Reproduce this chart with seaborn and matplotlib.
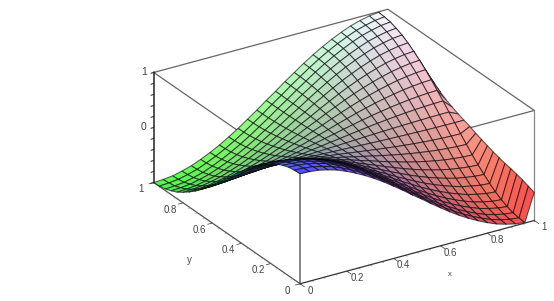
import numpy as np
import matplotlib
matplotlib.use('Agg')
import matplotlib.pyplot as plt
from mpl_toolkits.mplot3d import proj3d
import seaborn as sns

# 26 x 26 grid, heights
x_grid = [i / 25 for i in range(26)]
y_grid = [i / 25 for i in range(26)]
edge_wave = [1.0, 0.99, 0.97, 0.93, 0.88, 0.81, 0.73, 0.64, 0.54, 0.43, 0.31, 0.19, 0.06,
             -0.06, -0.19, -0.31, -0.43, -0.54, -0.64, -0.73, -0.81, -0.88, -0.93, -0.97, -0.99, -1.0]
# last column (x=1) bends away from the rest
edge_x1 = [-0.49, -0.45, -0.41, -0.38, -0.35, -0.33, -0.30, -0.27, -0.23, -0.19, -0.15, -0.10, -0.06,
           -0.02, 0.03, 0.08, 0.15, 0.23, 0.31, 0.385, 0.47, 0.54, 0.61, 0.67, 0.73, 0.78]

x_ticks = [0, 0.2, 0.4, 0.6, 0.8, 1]
y_ticks = [0, 0.2, 0.4, 0.6, 0.8, 1]
z_ticks = [-1, -0.8, -0.6, -0.4, -0.2, 0, 0.2, 0.4, 0.6, 0.8, 1]
tick_labels = ['0', '0.2', '0.4', '0.6', '0.8', '1']
minor_ticks = [i / 20 for i in range(21)]

sns.set_theme(style='white')
plt.rcParams['font.family'] = ['Liberation Sans', 'DejaVu Sans']

z = np.outer(edge_wave, edge_wave)
z[-1] = edge_x1
X, Y = np.meshgrid(x_grid, y_grid, indexing='ij')
# red follows x, green follows y, blue follows height
floor = 0.32
colors = floor + (1 - floor) * np.dstack([X, Y, (np.outer(edge_wave, edge_wave) + 1) / 2])

fig = plt.figure(figsize=(5.54, 3.01), dpi=100)
W = 400
ax = fig.add_axes([(344 - 0.5135 * W) / 554, (154.5 - 0.5135 * W) / 301, W / 554, W / 301],
                  projection='3d', proj_type='ortho', computed_zorder=False)
ax.set_box_aspect((1, 1, 0.442), zoom=0.993)
ax.view_init(elev=25.6, azim=-122)
ax.set_xlim(0, 1, view_margin=0)
ax.set_ylim(0, 1, view_margin=0)
ax.set_zlim(-1, 1, view_margin=0)
ax.set_axis_off()

# box behind the surface
box = '#666666'
ax.plot([0, 1, 1, 0, 0], [1, 1, 0, 0, 1], [1, 1, 1, 1, 1], color=box, lw=0.9, zorder=1)
ax.plot([0, 0], [0, 0], [-1, 1], color=box, lw=1.1, zorder=1)
ax.plot([1, 1], [0, 0], [-1, 1], color='#888888', lw=0.9, zorder=1)
ax.plot([0, 0], [1, 1], [-1, 1], color='#222222', lw=1.1, zorder=1)
ax.plot([0, 0], [0, 1], [-1, -1], color='#555555', lw=0.9, zorder=1)
ax.plot([0, 1], [0, 0], [-1, -1], color='#333333', lw=0.9, zorder=3)

ax.plot_surface(X, Y, z, facecolors=colors, rstride=1, cstride=1, shade=False,
                edgecolor=(0, 0, 0, 0.62), linewidth=0.75, zorder=2)

for t in minor_ticks:
    ax.plot([t, t], [0, -0.012], [-1, -1], color='#888888', lw=0.4, zorder=1)
    ax.plot([0, -0.008], [t, t], [-1, -1], color='#888888', lw=0.4, zorder=1)
for t in x_ticks:
    ax.plot([t, t], [0, -0.03], [-1, -1], color='#555555', lw=0.6, zorder=1)
for t in y_ticks:
    ax.plot([0, -0.02], [t, t], [-1, -1], color='#555555', lw=0.6, zorder=1)
for t in z_ticks:
    ax.plot([0, -0.012], [1, 1], [t, t], color='#222222', lw=0.7, zorder=1)


def label(x, y, zz, s, size=7):
    px, py, _ = proj3d.proj_transform(x, y, zz, ax.get_proj())
    ax.text2D(px, py, s, transform=ax.transData, color='#444444', fontsize=size,
              ha='center', va='center', zorder=4)


for t, lab in zip(x_ticks, tick_labels):
    label(t, -0.068, -1, lab)
for t, lab in zip(y_ticks, tick_labels):
    label(-0.055, t, -1.06, lab)
label(-0.03, 1.02, 1, '1', 7.5)
label(-0.03, 1.02, 0, '0', 7.5)
label(0.5, -0.225, -1, 'x', 5.5)
label(-0.16, 0.5, -1.3, 'y')

fig.savefig('out.png', dpi=100)
